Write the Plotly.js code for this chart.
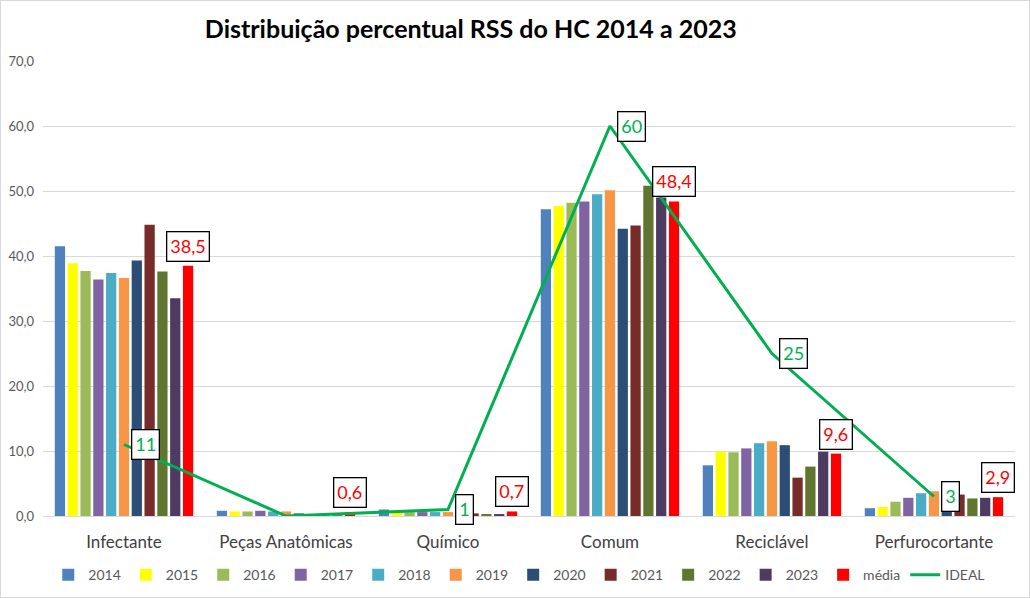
<!DOCTYPE html>
<html>
<head>
<meta charset="utf-8">
<script src="https://cdn.plot.ly/plotly-3.0.1.min.js"></script>
<style>
html,body{margin:0;padding:0;background:#fff;}
#chart{width:1030px;height:598px;box-sizing:border-box;border:1px solid #d9d9d9;}
</style>
</head>
<body>
<div id="chart"></div>
<script>
const categories = ["Infectante","Peças Anatômicas","Químico","Comum","Reciclável","Perfurocortante"];
const years = ["2014","2015","2016","2017","2018","2019","2020","2021","2022","2023"];
const v2014 = [41.5, 0.8, 1.0, 47.2, 7.8, 1.2];
const v2015 = [38.9, 0.7, 0.6, 47.7, 9.9, 1.4];
const v2016 = [37.7, 0.7, 0.6, 48.2, 9.8, 2.2];
const v2017 = [36.4, 0.8, 0.6, 48.4, 10.4, 2.8];
const v2018 = [37.4, 0.7, 0.6, 49.5, 11.2, 3.5];
const v2019 = [36.6, 0.7, 0.6, 50.1, 11.5, 3.8];
const v2020 = [39.3, 0.4, 0.5, 44.2, 10.9, 1.2];
const v2021 = [44.8, 0.1, 0.4, 44.7, 5.9, 3.3];
const v2022 = [37.6, 0.1, 0.3, 50.8, 7.6, 2.7];
const v2023 = [33.5, 0.1, 0.3, 49.0, 9.9, 2.8];
const media = [38.5, 0.6, 0.7, 48.4, 9.6, 2.9];
const ideal = [11, 0, 1, 60, 25, 3];
const yearValues = [v2014, v2015, v2016, v2017, v2018, v2019, v2020, v2021, v2022, v2023];
const colors = ["#4F81BD","#FFFF00","#9BBB59","#8064A2","#4BACC6","#F79646","#2C4D75","#772C2A","#5F7530","#4D3B62"];

const FONT = "Lato, 'Open Sans', sans-serif";
const fmt = v => v.toFixed(1).replace('.', ',');

const traces = years.map((y, i) => ({
  type: 'bar', name: y, x: categories, y: yearValues[i],
  marker: {color: colors[i]}, hoverinfo: 'none'
}));
traces.push({type:'bar', name:'média', x: categories, y: media, marker:{color:'#FF0000'}, hoverinfo:'none'});
traces.push({type:'scatter', mode:'lines', name:'IDEAL', x: categories, y: ideal,
  line:{color:'#00B050', width:3}, hoverinfo:'none'});

const margin = {l:42, r:14, t:60, b:81, autoexpand:false};
const plotW = 1028 - margin.l - margin.r;
const bargap = 0.13;
const nBars = 11;
const slot = plotW / categories.length * (1 - bargap) / nBars;
const mediaShift = slot * 5;

const annotations = [];
categories.forEach((c, i) => {
  annotations.push({
    x: c, y: media[i], xref:'x', yref:'y', text: fmt(media[i]),
    showarrow:false, xanchor:'center', yanchor:'bottom', xshift: mediaShift, yshift: 4,
    font:{family:FONT, size:18, color:'#FF0000'},
    bordercolor:'#000', borderwidth:1.3, borderpad:3, bgcolor:'#fff'
  });
  if (ideal[i] > 0) {
    annotations.push({
      x: c, y: ideal[i], xref:'x', yref:'y', text: String(ideal[i]),
      showarrow:false, xanchor:'left', yanchor:'middle', xshift: 7,
      font:{family:FONT, size:18, color:'#00B050'},
      bordercolor:'#000', borderwidth:1.3, borderpad:3, bgcolor:'#fff'
    });
  }
});

const layout = {
  width:1028, height:596, margin: margin,
  paper_bgcolor:'#fff', plot_bgcolor:'#fff',
  separators: ',.',
  title:{text:'<b>Distribuição percentual RSS do HC 2014 a 2023</b>', x:0.457, xanchor:'center', y:0.953, yanchor:'middle',
    font:{family:FONT, size:25, color:'#000'}},
  barmode:'group', bargap: bargap, bargroupgap: 0.2,
  xaxis:{type:'category', showgrid:false, showline:true, linecolor:'#d9d9d9', linewidth:1,
    ticks:'outside', ticklen:11, tickcolor:'rgba(0,0,0,0)',
    tickfont:{family:FONT, size:17, color:'#404040'}, fixedrange:true},
  yaxis:{range:[0,70], dtick:10, tickformat:'.1f', showgrid:true, gridcolor:'#d9d9d9', gridwidth:1,
    zeroline:false, showline:false, ticks:'', ticklabelstandoff:8,
    tickfont:{family:FONT, size:13, color:'#595959'}, fixedrange:true},
  legend:{orientation:'h', x:0.49, xanchor:'center', y:-0.13, yanchor:'middle',
    font:{family:FONT, size:14, color:'#595959'}, itemwidth:30, tracegroupgap:0, traceorder:'normal'},
  annotations: annotations,
  showlegend:true
};

Plotly.newPlot('chart', traces, layout, {displayModeBar:false, staticPlot:true});
</script>
</body>
</html>
